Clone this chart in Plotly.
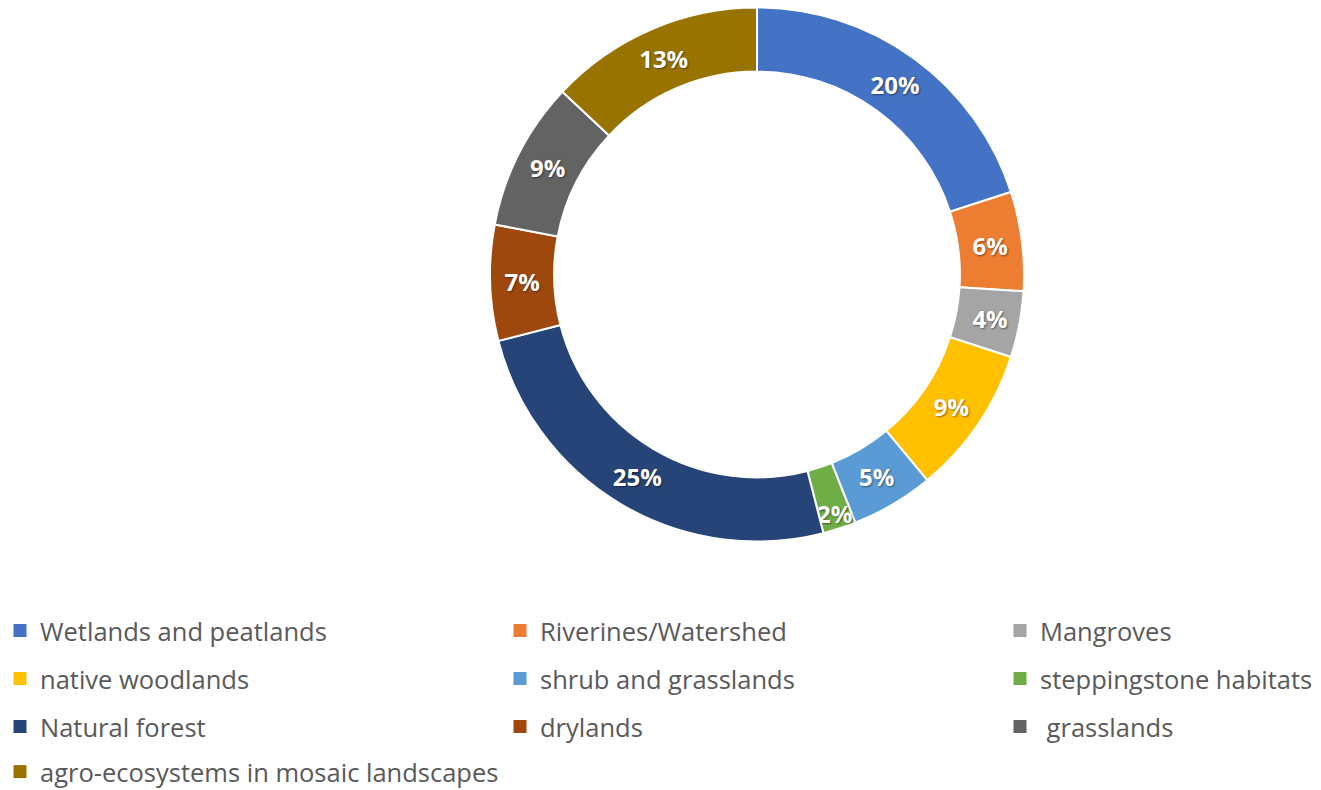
import plotly.graph_objects as go

categories = ["Wetlands and peatlands", "Riverines/Watershed", "Mangroves",
              "native woodlands", "shrub and grasslands", "steppingstone habitats",
              "Natural forest", "drylands", " grasslands",
              "agro-ecosystems in mosaic landscapes"]
values = [20, 6, 4, 9, 5, 2, 25, 7, 9, 13]
colors = ["#4472C4", "#ED7D31", "#A5A5A5", "#FFC000", "#5B9BD5",
          "#70AD47", "#264478", "#9E480E", "#636363", "#997300"]

W, H = 1321, 790
cx, cy, R = 757, 274.5, 267

fig = go.Figure()
fig.add_trace(go.Pie(
    labels=categories, values=values, sort=False, direction="clockwise",
    rotation=0, hole=0.76,
    marker=dict(colors=colors, line=dict(color="white", width=2)),
    texttemplate="%{value}%", textposition="inside",
    insidetextorientation="horizontal",
    textfont=dict(family="Open Sans", size=24, color="white", weight="bold",
                  shadow="1px 1px 2px rgba(0,0,0,0.45)"),
    domain=dict(x=[(cx - R) / W, (cx + R) / W], y=[1 - (cy + R) / H, 1 - (cy - R) / H]),
    showlegend=False, hoverinfo="label+percent",
))

row_y = [631, 679, 727, 772]
col_x = [0, 500, 1000]
layout_legends = {}
for i, (name, col) in enumerate(zip(categories, colors)):
    ln = "legend" if i == 0 else f"legend{i + 1}"
    fig.add_trace(go.Scatter(
        x=[None], y=[None], mode="markers", name=name,
        marker=dict(symbol="square", size=13, color=col),
        legend=ln, showlegend=True,
    ))
    layout_legends[ln] = dict(
        orientation="h", xref="container", yref="container",
        x=col_x[i % 3] / W, xanchor="left",
        y=1 - row_y[i // 3] / H, yanchor="middle",
        font=dict(family="Open Sans", size=25.5, color="#595959"),
        bgcolor="rgba(0,0,0,0)", itemwidth=30,
    )

fig.update_layout(
    width=W, height=H, margin=dict(l=0, r=0, t=0, b=0, autoexpand=False),
    paper_bgcolor="white", plot_bgcolor="white",
    xaxis=dict(visible=False), yaxis=dict(visible=False),
    uniformtext=dict(minsize=24, mode="show"),
    **layout_legends,
)
fig.write_html("out.html")
